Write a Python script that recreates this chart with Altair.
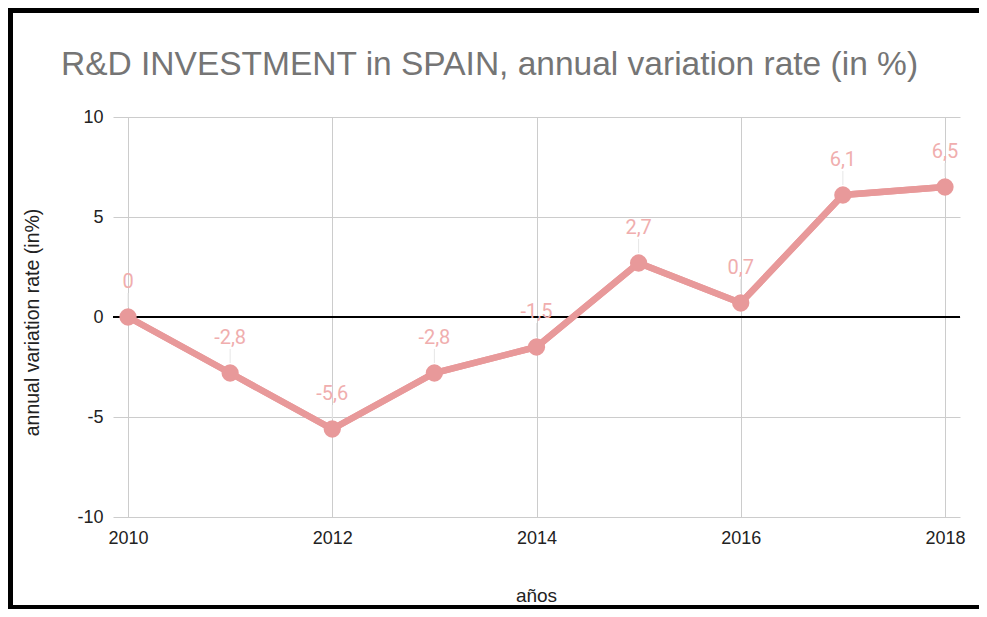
import altair as alt
import pandas as pd

years = [2010, 2011, 2012, 2013, 2014, 2015, 2016, 2017, 2018]
rates = [0, -2.8, -5.6, -2.8, -1.5, 2.7, 0.7, 6.1, 6.5]
rate_labels = ["0", "-2,8", "-5,6", "-2,8", "-1,5", "2,7", "0,7", "6,1", "6,5"]
x_ticks = [2010, 2012, 2014, 2016, 2018]
y_ticks = [-10, -5, 0, 5, 10]
title_text = "R&D INVESTMENT in SPAIN, annual variation rate (in %)"

df = pd.DataFrame({"year": years, "rate": rates, "label": rate_labels})

LINE = "#e8999a"
LABEL = "#f0aeae"
FONT = "Liberation Sans"

x_scale = alt.Scale(domain=[2009.853, 2018.147], nice=False, zero=False)
y_scale = alt.Scale(domain=[-10, 10], nice=False)

x_axis = alt.Axis(
    values=x_ticks, labelExpr="'' + datum.value", title="años",
    labelFontSize=18, labelColor="#222222", labelFont=FONT, labelPadding=12,
    titleFontSize=19, titleFont=FONT, titleFontWeight="normal", titleColor="#222222",
    titleX=423, titleY=78, titleAlign="center", titleBaseline="middle",
    grid=True, gridColor="#cccccc", domain=False, ticks=False, tickSize=0,
)
y_axis = alt.Axis(
    values=y_ticks, labelExpr="'' + datum.value", title="annual variation rate (in%)",
    labelFontSize=18, labelColor="#222222", labelFont=FONT, labelPadding=10,
    titleFontSize=19.5, titleFont=FONT, titleFontWeight="normal", titleColor="#222222",
    titleAngle=-90, titleX=-81, titleY=205, titleAlign="center", titleBaseline="middle",
    grid=True, gridColor="#cccccc", domain=False, ticks=False, tickSize=0,
)

base = alt.Chart(df)

line = base.mark_line(color=LINE, strokeWidth=6.5).encode(
    x=alt.X("year:Q", scale=x_scale, axis=x_axis),
    y=alt.Y("rate:Q", scale=y_scale, axis=y_axis),
)

zero = base.mark_rule(color="black", strokeWidth=1).encode(y=alt.datum(0))

leaders = base.transform_calculate(
    top="datum.rate + 1.2", bottom="datum.rate + 0.5"
).mark_rule(color="#e6e6e6", strokeWidth=1).encode(
    x="year:Q", y="bottom:Q", y2="top:Q"
)

points = base.mark_circle(color=LINE, size=300, opacity=1).encode(
    x="year:Q", y="rate:Q"
)

labels = base.mark_text(
    color=LABEL, fontSize=20, font="Roboto", dy=-35, baseline="middle", align="center"
).encode(x="year:Q", y="rate:Q", text="label:N")

frame_data = alt.Data(values=[{"k": 1}])
title_mark = alt.Chart(alt.Data(values=[{"t": title_text}])).mark_text(
    font=FONT, fontSize=33.5, color="#757575", align="left", baseline="alphabetic"
).encode(x=alt.value(-52), y=alt.value(-42), text="t:N")

top_bar = alt.Chart(frame_data).mark_rule(color="black", strokeWidth=5).encode(
    x=alt.value(-105), x2=alt.value(866), y=alt.value(-106.5)
)
left_bar = alt.Chart(frame_data).mark_rule(color="black", strokeWidth=5).encode(
    x=alt.value(-102.5), y=alt.value(-109), y2=alt.value(492)
)
bottom_bar = alt.Chart(frame_data).mark_rule(color="black", strokeWidth=4).encode(
    x=alt.value(-105), x2=alt.value(866), y=alt.value(490)
)

chart = alt.layer(
    line, zero, leaders, line, points, labels, title_mark, top_bar, left_bar, bottom_bar
).properties(
    width=847,
    height=400,
    autosize=alt.AutoSizeParams(type="none"),
    padding={"left": 105, "top": 109, "right": 19, "bottom": 92},
    background="white",
).configure_view(stroke=None)

chart.save("out.html", embed_options={"renderer": "svg", "actions": False})
